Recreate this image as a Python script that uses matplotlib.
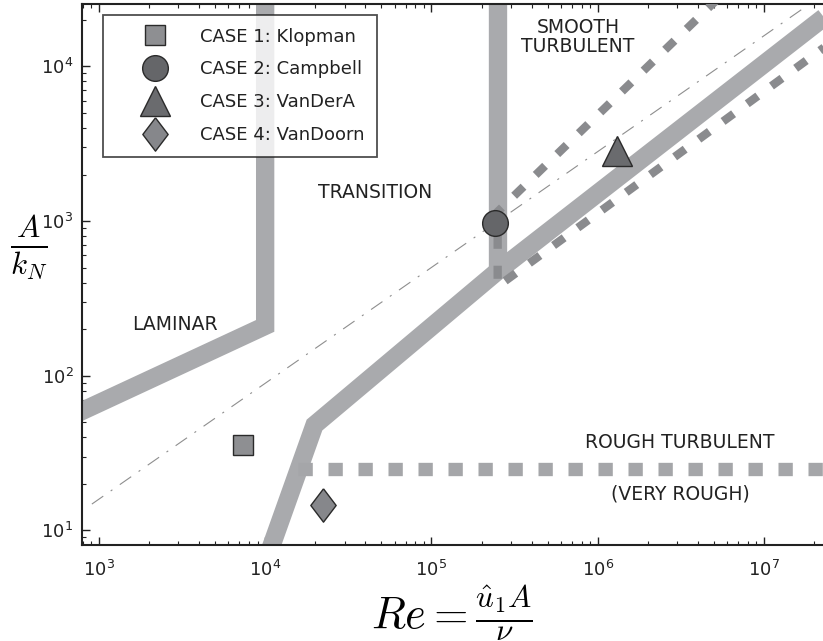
import numpy as np
import matplotlib
matplotlib.use('Agg')
import matplotlib.pyplot as plt

plt.rcParams['font.family'] = ['DejaVu Sans']
plt.rcParams['mathtext.fontset'] = 'cm'
plt.rcParams['lines.scale_dashes'] = False

# ---- data (Re, A/k_N) ----
laminar_re = [700, 1e4, 1e4]
laminar_ak = [55.6, 210, 1e6]
transition_re = [2.5e5, 2.5e5]
transition_ak = [1e6, 470]
rough_re = [8.9e3, 1.98e4, 2.5e5, 3e7]
rough_ak = [4.3, 48, 475, 26000]
smooth_re = [3e7, 2.5e5, 2.5e5, 3e7]
smooth_ak = [167000, 1150, 378, 16370]
veryrough_re = [1.58e4, 3e7]
veryrough_ak = [25, 25]
ref_re = [908, 3e7]
ref_ak = [14.8, 36000]

case_names = ['CASE 1: Klopman', 'CASE 2: Campbell', 'CASE 3: VanDerA', 'CASE 4: VanDoorn']
case_re = [7.4e3, 2.41e5, 1.30e6, 2.24e4]
case_ak = [35.4, 973, 2840, 14.5]
case_colors = ['#8e8f92', '#656669', '#6a6b6e', '#86878b']

region_names = ['LAMINAR', 'TRANSITION', 'SMOOTH\nTURBULENT', 'ROUGH TURBULENT', '(VERY ROUGH)']
region_re = [2870, 45800, 7.59e5, 3.13e6, 3.13e6]
region_ak = [213, 1530, 15500, 36.8, 17.2]

fig = plt.figure(figsize=(8.23, 6.41), dpi=100)
ax = fig.add_axes([0.0993, 0.1498, 0.9007, 0.8447])
ax.set_xscale('log')
ax.set_yscale('log')

band = '#a9aaad'
ax.plot(ref_re, ref_ak, color='#8e8e8e', lw=0.8, linestyle=(0, (10, 6.5, 1.5, 6.5)), zorder=1)
ax.plot(laminar_re, laminar_ak, color=band, lw=13.2, solid_joinstyle='miter', solid_capstyle='butt', zorder=2)
ax.plot(transition_re, transition_ak, color=band, lw=13.2, solid_capstyle='butt', zorder=2)
ax.plot(rough_re, rough_ak, color=band, lw=13.2, solid_joinstyle='miter', solid_capstyle='butt', zorder=2)
ax.plot(veryrough_re, veryrough_ak, color='#a5a6a9', lw=9.6, linestyle=(0, (10.3, 11.3)),
        dash_capstyle='butt', zorder=3)
ax.plot(smooth_re, smooth_ak, color='#8a8b8e', lw=6, linestyle=(0, (9.4, 12.2)),
        dash_capstyle='butt', dash_joinstyle='miter', zorder=3)

diamond = [(0, 1), (0.76, 0), (0, -1), (-0.76, 0), (0, 1)]
markers = ['s', 'o', '^', diamond]
sizes = [15, 18.5, 21, 24]
for name, x, y, c, m, s in zip(case_names, case_re, case_ak, case_colors, markers, sizes):
    ax.plot([x], [y], linestyle='none', marker=m, ms=s, mfc=c, mec='#2a2a2a', mew=1.0,
            label=name, zorder=5)

for t, x, y in zip(region_names, region_re, region_ak):
    ax.text(x, y, t, ha='center', va='center', fontsize=13.5, color='#222222',
            linespacing=0.95, zorder=4)

ax.set_xlim(789, 2.26e7)
ax.set_ylim(8.05, 25500)

ax.tick_params(which='both', direction='in', top=True, right=False, labelsize=13, colors='#222222')
ax.tick_params(which='major', length=6, width=1.0)
ax.tick_params(which='minor', length=3.2, width=0.8)
ax.tick_params(axis='x', pad=11)
ax.tick_params(axis='y', pad=6)
for sp in ['left', 'bottom', 'top']:
    ax.spines[sp].set_linewidth(1.5)
    ax.spines[sp].set_color('#222222')
ax.spines['right'].set_visible(False)

ax.set_xlabel(r'$Re = \frac{\hat{u}_1 A}{\nu}$', fontsize=32)
ax.xaxis.set_label_coords(0.5, -0.070)
ax.set_ylabel(r'$\frac{A}{k_N}$', fontsize=32, rotation=0, ha='center', va='center')
ax.yaxis.set_label_coords(-0.0711, 0.5503)

leg = ax.legend(loc='upper left', bbox_to_anchor=(0.0283, 0.9788), borderaxespad=0,
                fontsize=13, frameon=True, fancybox=False, borderpad=0.7,
                handlelength=4.4, handletextpad=0.3, labelspacing=0.82, numpoints=1)
leg.get_frame().set_edgecolor('#222222')
leg.get_frame().set_linewidth(1.3)
for t in leg.get_texts():
    t.set_color('#222222')

fig.savefig('out.png', dpi=100)
